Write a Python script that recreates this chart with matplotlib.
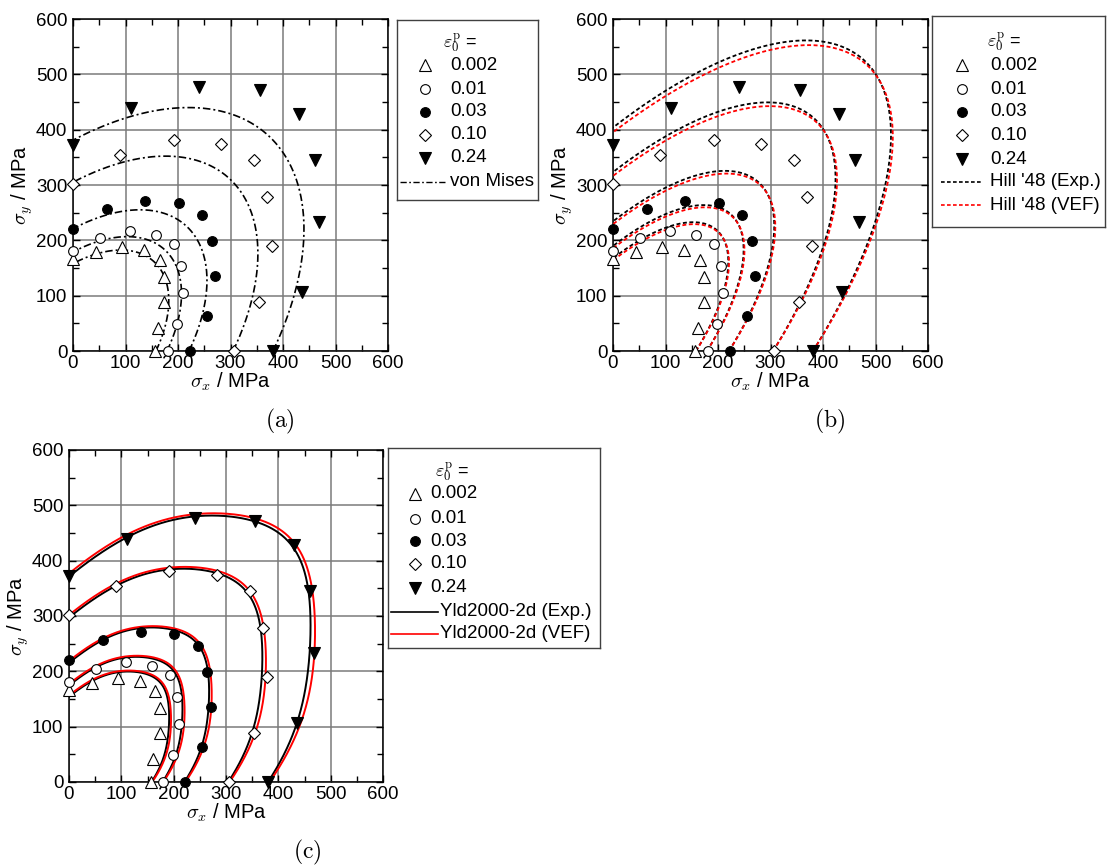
import numpy as np
import matplotlib
matplotlib.use("Agg")
import matplotlib.pyplot as plt
from matplotlib.ticker import MultipleLocator

plt.rcParams['font.family'] = ['Liberation Sans', 'DejaVu Sans']
plt.rcParams['mathtext.fontset'] = 'cm'

W, H = 1112, 868

# measured yield points (sigma_x, sigma_y) in MPa for each prestrain level
strain_labels = ['0.002', '0.01', '0.03', '0.10', '0.24']
sx_002 = [0, 44, 93, 136, 165, 174, 173, 161, 157]
sy_002 = [167, 179, 188, 183, 165, 133, 89, 42, 0]
sx_001 = [0, 51, 109, 158, 193, 206, 210, 199, 180]
sy_001 = [181, 205, 216, 210, 194, 154, 105, 49, 0]
sx_003 = [0, 65, 137, 201, 246, 264, 271, 255, 222]
sy_003 = [220, 257, 271, 267, 246, 198, 135, 64, 0]
sx_010 = [0, 90, 192, 282, 345, 370, 379, 354, 306]
sy_010 = [302, 355, 382, 375, 345, 279, 190, 88, 0]
sx_024 = [0, 111, 240, 356, 430, 461, 469, 436, 381]
sy_024 = [372, 440, 478, 472, 429, 345, 234, 107, 0]

# uniaxial (RD) flow stress that scales each yield locus
sig0 = [158, 179, 221, 305, 381]

# Hill '48 Lankford values (r0, r90)
hill_exp = (1.90, 2.79)
hill_vef = (2.07, 2.64)

# Yld2000-2d coefficients alpha1..alpha6, exponent a = 6
yld_a = 6
yld_exp = [0.9622, 1.1940, 0.9274, 0.8753, 0.9253, 0.8325]
yld_vef = [1.0011, 1.1409, 0.8844, 0.8702, 0.9057, 0.8633]


def yld2000(sx, sy, al, a):
    a1, a2, a3, a4, a5, a6 = al
    x1x = (2 * a1 * sx - a1 * sy) / 3
    x1y = (-a2 * sx + 2 * a2 * sy) / 3
    x2x = ((-2 * a3 + 2 * a4 + 8 * a5 - 2 * a6) * sx + (a3 - 4 * a4 - 4 * a5 + 4 * a6) * sy) / 9
    x2y = ((4 * a3 - 4 * a4 - 4 * a5 + a6) * sx + (-2 * a3 + 8 * a4 + 2 * a5 - 2 * a6) * sy) / 9
    return np.abs(x1x - x1y) ** a + np.abs(2 * x2y + x2x) ** a + np.abs(2 * x2x + x2y) ** a


phi = np.linspace(0, np.pi / 2, 400)


def yld_radius(al, a):
    return (2.0 / yld2000(np.cos(phi), np.sin(phi), al, a)) ** (1.0 / a)


def hill_radius(r0, r90):
    k = r0 / (1 + r0)
    P = r0 * (1 + r90) / (r90 * (1 + r0))
    c, s = np.cos(phi), np.sin(phi)
    return 1.0 / np.sqrt(c * c - 2 * k * c * s + P * s * s)


fig = plt.figure(figsize=(W / 100, H / 100), dpi=100)


def make_axes(left, top, right, bottom):
    ax = fig.add_axes([left / W, 1 - bottom / H, (right - left) / W, (bottom - top) / H])
    ax.set_xlim(0, 600)
    ax.set_ylim(0, 600)
    ax.xaxis.set_major_locator(MultipleLocator(100))
    ax.yaxis.set_major_locator(MultipleLocator(100))
    ax.xaxis.set_minor_locator(MultipleLocator(50))
    ax.yaxis.set_minor_locator(MultipleLocator(50))
    ax.tick_params(which='both', direction='in', top=True, right=True, labelsize=13.5, width=1)
    ax.tick_params(axis='x', pad=3)
    ax.tick_params(axis='y', pad=4)
    ax.tick_params(which='major', length=5)
    ax.tick_params(which='minor', length=4)
    ax.grid(True, which='major', color='#7a7a7a', lw=1.1)
    ax.set_axisbelow(True)
    for s in ax.spines.values():
        s.set_linewidth(1.1)
    ax.set_xlabel(r'$\sigma_x$ / MPa', fontsize=14.5, labelpad=-1)
    ax.set_ylabel(r'$\sigma_y$ / MPa', fontsize=14.5, labelpad=0.5)
    return ax


series = [(sx_002, sy_002), (sx_001, sy_001), (sx_003, sy_003), (sx_010, sy_010), (sx_024, sy_024)]
mstyles = [dict(marker='^', ms=8.5, mfc='white'), dict(marker='o', ms=7.0, mfc='white'),
           dict(marker='o', ms=7.0, mfc='black'), dict(marker='D', ms=6.0, mfc='white'),
           dict(marker='v', ms=8.5, mfc='black')]
MK = dict(ls='none', mec='black', mew=0.8)


def draw_points(ax):
    for (x, y), st in zip(series, mstyles):
        ax.plot(x, y, clip_on=False, zorder=4, **MK, **st)


VM_DASH = (0, (4.5, 1.8, 1.2, 1.8))
HILL_DASH = (0, (2.2, 1.4))
TITLE = r'$\varepsilon_0^{\mathrm{p}}$ ='


def legend_box(x0, y0, x1, y1, title_x, title_y, rows, mx, tx, lines, lx0, lx1, ltx):
    lax = fig.add_axes([x0 / W, 1 - y1 / H, (x1 - x0) / W, (y1 - y0) / H])
    lax.set_xlim(x0, x1)
    lax.set_ylim(y1, y0)
    lax.set_xticks([])
    lax.set_yticks([])
    for s in lax.spines.values():
        s.set_linewidth(1.0)
        s.set_color('#404040')
    lax.text(title_x, title_y, TITLE, fontsize=13, ha='center', va='center')
    for y, st, lab in zip(rows, mstyles, strain_labels):
        lax.plot([mx], [y], clip_on=False, **MK, **st)
        lax.text(tx, y, lab, fontsize=13.5, va='center')
    for y, (kw, lab) in zip(rows[len(strain_labels):], lines):
        lax.plot([lx0, lx1], [y, y], **kw)
        lax.text(ltx, y, lab, fontsize=13.5, va='center')
    return lax


axA = make_axes(73, 19, 388, 351)
axB = make_axes(613, 19, 928, 351)
axC = make_axes(69, 450, 383, 782)

# (a) von Mises
rvm = hill_radius(1.0, 1.0)
for s0 in sig0:
    axA.plot(s0 * rvm * np.cos(phi), s0 * rvm * np.sin(phi), color='black', lw=1.2, ls=VM_DASH, zorder=3)
draw_points(axA)

# (b) Hill '48
re_ = hill_radius(*hill_exp)
rv_ = hill_radius(*hill_vef)
for s0 in sig0:
    axB.plot(s0 * re_ * np.cos(phi), s0 * re_ * np.sin(phi), color='black', lw=1.3, ls=HILL_DASH, zorder=3)
    axB.plot(s0 * rv_ * np.cos(phi), s0 * rv_ * np.sin(phi), color='red', lw=1.3, ls=HILL_DASH, zorder=3)
draw_points(axB)

# (c) Yld2000-2d
ye = yld_radius(yld_exp, yld_a)
yv = yld_radius(yld_vef, yld_a)
for s0 in sig0:
    axC.plot(s0 * ye * np.cos(phi), s0 * ye * np.sin(phi), color='black', lw=1.4, zorder=3)
    axC.plot(s0 * yv * np.cos(phi), s0 * yv * np.sin(phi), color='red', lw=1.4, zorder=3)
draw_points(axC)

legend_box(397, 20, 538, 200, 460, 43, [65, 89, 111.5, 134.5, 158, 182], 425, 450,
           [(dict(color='black', lw=1.0, ls=VM_DASH), 'von Mises')], 400, 447, 450)
legend_box(932, 16, 1105, 227, 1004, 42, [65, 89, 112, 135, 159, 182, 205], 962, 990,
           [(dict(color='black', lw=1.2, ls=HILL_DASH), "Hill '48 (Exp.)"),
            (dict(color='red', lw=1.2, ls=HILL_DASH), "Hill '48 (VEF)")], 941, 982, 990)
legend_box(388, 448, 600, 648, 452, 472, [494, 518.5, 541, 564, 588, 611.5, 633.5], 415, 430,
           [(dict(color='black', lw=1.2), 'Yld2000-2d (Exp.)'),
            (dict(color='red', lw=1.2), 'Yld2000-2d (VEF)')], 391, 438, 440)

fig.text(280 / W, 1 - 421 / H, r'$\mathrm{(a)}$', fontsize=17, ha='center', va='center')
fig.text(830 / W, 1 - 421 / H, r'$\mathrm{(b)}$', fontsize=17, ha='center', va='center')
fig.text(307 / W, 1 - 852 / H, r'$\mathrm{(c)}$', fontsize=17, ha='center', va='center')

fig.savefig('out.png', dpi=100)
